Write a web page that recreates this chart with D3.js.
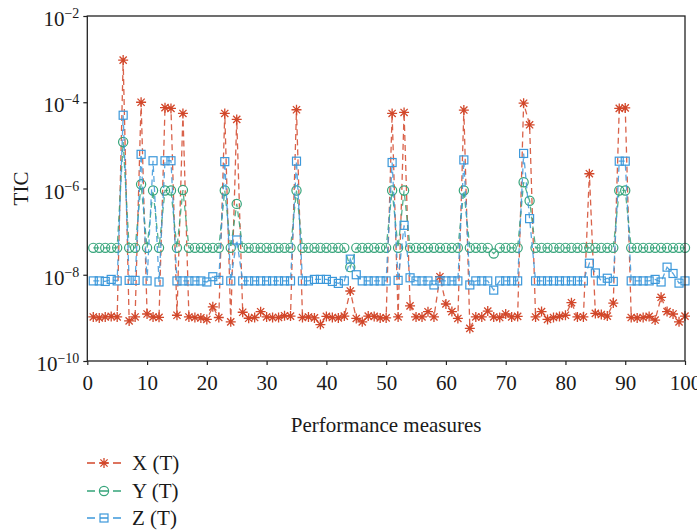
<!DOCTYPE html>
<html>
<head>
<meta charset="utf-8">
<script src="https://cdn.jsdelivr.net/npm/d3@7"></script>
<style>
  html, body { margin: 0; padding: 0; background: #fff; }
  svg text { font-family: "Liberation Serif", "DejaVu Serif", serif; fill: #1a1a1a; }
</style>
</head>
<body>
<svg id="chart" width="697" height="532"></svg>
<script>
// ---------------- data ----------------
const seriesNames = ["X (T)", "Y (T)", "Z (T)"];

const xValues = [
  1.05e-9,1.0e-9,1.05e-9,1.08e-9,1.05e-9,9.5e-4,8.5e-10,1.05e-9,1.0e-4,1.23e-9,
  1.05e-9,1.03e-9,7.5e-5,7.2e-5,1.15e-9,5.5e-5,1.05e-9,1.02e-9,1.0e-9,9.2e-10,
  1.8e-9,1.02e-9,5.5e-5,8.1e-10,4.0e-5,1.35e-9,9.8e-10,1.02e-9,1.39e-9,1.05e-9,
  1.02e-9,1.02e-9,1.12e-9,1.1e-9,6.7e-5,1.02e-9,1.05e-9,1.0e-9,7.0e-10,1.08e-9,
  1.02e-9,1.0e-9,1.1e-9,4.2e-9,9.7e-10,8.1e-10,1.1e-9,1.08e-9,1.0e-9,1.0e-9,
  5.5e-5,1.05e-9,5.8e-5,1.9e-9,1.05e-9,1.05e-9,1.39e-9,1.05e-9,9.0e-9,2.1e-9,
  1.4e-9,9.7e-10,6.6e-5,5.7e-10,1.05e-9,1.05e-9,1.44e-9,1.05e-9,1.02e-9,1.23e-9,
  1.05e-9,1.08e-9,9.5e-5,3.0e-5,1.05e-9,1.4e-9,9.2e-10,1.02e-9,1.08e-9,1.15e-9,
  2.25e-9,1.05e-9,1.05e-9,2.2e-6,1.27e-9,1.2e-9,1.1e-9,2.2e-9,7.2e-5,7.4e-5,
  1.02e-9,1.0e-9,1.02e-9,1.08e-9,8.9e-10,3.0e-9,1.4e-9,1.23e-9,8.1e-10,1.1e-9
];

const yValues = [
  4.2e-8,4.2e-8,4.2e-8,4.2e-8,4.2e-8,1.2e-5,4.2e-8,4.2e-8,1.25e-6,4.2e-8,
  9e-7,4.2e-8,9e-7,9e-7,4.2e-8,9.2e-7,4.2e-8,4.2e-8,4.2e-8,4.2e-8,
  4.2e-8,4.2e-8,9e-7,4.2e-8,4.4e-7,4.2e-8,4.2e-8,4.2e-8,4.2e-8,4.2e-8,
  4.2e-8,4.2e-8,4.2e-8,4.2e-8,9e-7,4.2e-8,4.2e-8,4.2e-8,4.2e-8,4.2e-8,
  4.2e-8,4.2e-8,4.2e-8,1.5e-8,4.2e-8,4.2e-8,4.2e-8,4.2e-8,4.2e-8,4.2e-8,
  9e-7,4.2e-8,9e-7,4.2e-8,4.2e-8,4.2e-8,4.2e-8,4.2e-8,4.2e-8,4.2e-8,
  4.2e-8,4.2e-8,9e-7,4.2e-8,4.2e-8,4.2e-8,4.2e-8,3.1e-8,4.2e-8,4.2e-8,
  4.2e-8,4.2e-8,1.4e-6,5.2e-7,4.2e-8,4.2e-8,4.2e-8,4.2e-8,4.2e-8,4.2e-8,
  4.2e-8,4.2e-8,4.2e-8,4.2e-8,4.2e-8,4.2e-8,4.2e-8,4.2e-8,9e-7,9e-7,
  4.2e-8,4.2e-8,4.2e-8,4.2e-8,4.2e-8,4.2e-8,4.2e-8,4.2e-8,4.2e-8,4.2e-8
];

const zValues = [
  7.2e-9,7.2e-9,7.0e-9,7.8e-9,7.2e-9,5e-5,7.4e-9,7.4e-9,6.2e-6,7.2e-9,
  4.4e-6,6.8e-9,4.4e-6,4.4e-6,7.2e-9,7.2e-9,7.2e-9,7.2e-9,7.2e-9,6.8e-9,
  9e-9,7.4e-9,4.2e-6,7.2e-9,6.4e-8,7.2e-9,7.2e-9,7.2e-9,7.2e-9,7.2e-9,
  7.2e-9,7.2e-9,7.2e-9,7.2e-9,4.3e-6,7.2e-9,7.2e-9,7.8e-9,7.8e-9,7.8e-9,
  7.0e-9,6.3e-9,7.2e-9,2.3e-8,1.0e-8,7.2e-9,7.2e-9,7.2e-9,7.2e-9,7.2e-9,
  4.0e-6,7.4e-9,1.4e-7,8.5e-9,7.2e-9,7.2e-9,7.2e-9,5.8e-9,7.2e-9,7.2e-9,
  7.2e-9,7.2e-9,4.6e-6,5.8e-9,7.2e-9,7.2e-9,7.2e-9,4.4e-9,7.2e-9,7.2e-9,
  7.2e-9,7.2e-9,6.5e-6,2e-7,7.2e-9,7.2e-9,7.2e-9,7.2e-9,7.2e-9,7.2e-9,
  7.2e-9,7.2e-9,7.2e-9,1.85e-8,1.1e-8,7.2e-9,8.3e-9,7.0e-9,4.3e-6,4.3e-6,
  7.2e-9,7.2e-9,7.2e-9,7.2e-9,7.8e-9,6.8e-9,1.5e-8,1.07e-8,6.4e-9,7.2e-9
];

const xTicks = [0,10,20,30,40,50,60,70,80,90,100];
const yTickExponents = [-2,-4,-6,-8,-10];
const xLabel = "Performance measures";
const yLabel = "TIC";

// ---------------- layout ----------------
const colors = ["#D2472A", "#35A47A", "#3C98DA"];
const markers = ["star", "circle", "square"];
const svg = d3.select("#chart");
const mLeft = 87.3, mRight = 685, mTop = 16, mBottom = 361;

const x = d3.scaleLinear().domain([0, 100]).range([mLeft, mRight]);
const y = d3.scaleLog().domain([1e-10, 1e-2]).range([mBottom, mTop]);

const allSeries = [xValues, yValues, zValues].map((vals, k) => ({
  name: seriesNames[k], color: colors[k], marker: markers[k],
  points: vals.map((v, i) => ({ i: i + 1, v }))
}));

function drawMarker(g, type, color) {
  if (type === "star") {
    const a = 5, b = 3.6;
    g.append("path")
      .attr("d", `M${-a},0L${a},0M0,${-a}L0,${a}M${-b},${-b}L${b},${b}M${-b},${b}L${b},${-b}`)
      .attr("stroke", color).attr("stroke-width", 1.3).attr("fill", "none");
  } else if (type === "circle") {
    g.append("circle").attr("r", 4.6)
      .attr("stroke", color).attr("stroke-width", 1.2).attr("fill", "none");
  } else {
    g.append("rect").attr("x", -4).attr("y", -4).attr("width", 8).attr("height", 8)
      .attr("stroke", color).attr("stroke-width", 1.2).attr("fill", "none");
  }
}

const line = d3.line().x(d => x(d.i)).y(d => y(d.v));

const plot = svg.append("g");
allSeries.forEach(s => {
  plot.append("path")
    .datum(s.points)
    .attr("d", line)
    .attr("fill", "none")
    .attr("stroke", s.color)
    .attr("stroke-opacity", 0.85)
    .attr("stroke-width", 1.3)
    .attr("stroke-dasharray", "6,4");
  s.points.forEach(p => {
    const g = plot.append("g").attr("transform", `translate(${x(p.i)},${y(p.v)})`);
    drawMarker(g, s.marker, s.color);
  });
});

// ---------------- axes ----------------
const axisColor = "#222";
svg.append("rect").attr("x", mLeft).attr("y", mTop)
  .attr("width", mRight - mLeft).attr("height", mBottom - mTop)
  .attr("fill", "none").attr("stroke", axisColor).attr("stroke-width", 1.3);

const xAxis = d3.axisBottom(x).tickValues(xTicks).tickSize(4).tickPadding(6)
  .tickFormat(d3.format("d"));
const gx = svg.append("g").attr("transform", `translate(0,${mBottom})`).call(xAxis);
gx.select(".domain").remove();
gx.selectAll(".tick line").attr("stroke", axisColor).attr("stroke-width", 1.2);
gx.selectAll(".tick text")
  .style("font-family", '"Liberation Serif", "DejaVu Serif", serif')
  .style("font-size", "21px").attr("fill", "#1a1a1a").attr("dy", "0.9em");

const yAxis = d3.axisLeft(y).tickValues(yTickExponents.map(e => Math.pow(10, e)))
  .tickSize(4).tickFormat("");
const gy = svg.append("g").attr("transform", `translate(${mLeft},0)`).call(yAxis);
gy.select(".domain").remove();
gy.selectAll(".tick line").attr("stroke", axisColor).attr("stroke-width", 1.2);
gy.selectAll(".tick").each(function(d) {
  const e = Math.round(Math.log10(d));
  const t = d3.select(this).append("text")
    .attr("x", -8).attr("y", 9.5)
    .attr("text-anchor", "end")
    .style("font-size", "21px");
  t.append("tspan").text("10");
  t.append("tspan").attr("dy", -8).style("font-size", "14px").text("\u2212" + Math.abs(e));
});

svg.append("text")
  .attr("x", (mLeft + mRight) / 2).attr("y", 432)
  .attr("text-anchor", "middle").style("font-size", "21px")
  .text(xLabel);
svg.append("text")
  .attr("transform", `translate(28,${(mTop + mBottom) / 2}) rotate(-90)`)
  .attr("text-anchor", "middle").style("font-size", "21px")
  .text(yLabel);

// ---------------- legend ----------------
const legendRows = [463, 491, 518];
allSeries.forEach((s, k) => {
  const ly = legendRows[k];
  svg.append("line")
    .attr("x1", 87).attr("x2", 121).attr("y1", ly).attr("y2", ly)
    .attr("stroke", s.color).attr("stroke-width", 1.3)
    .attr("stroke-dasharray", "8,5");
  const g = svg.append("g").attr("transform", `translate(104,${ly})`);
  drawMarker(g, s.marker, s.color);
  svg.append("text").attr("x", 132).attr("y", ly + 7)
    .style("font-size", "21px").text(s.name);
});
</script>
</body>
</html>
